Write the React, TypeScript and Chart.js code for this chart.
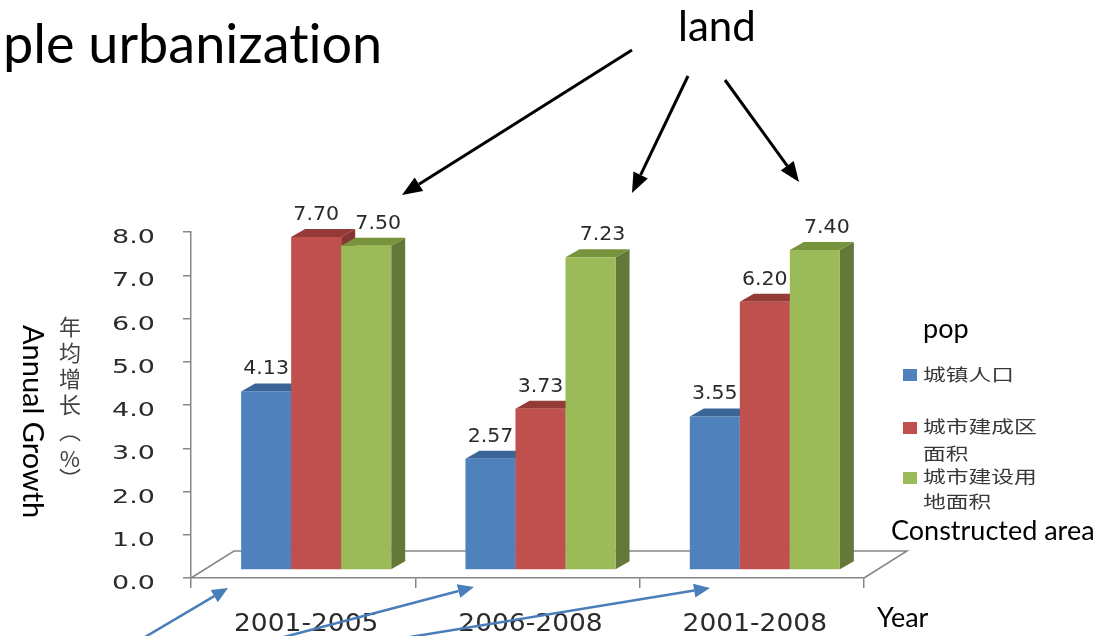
import { useEffect, useRef } from "react";
import { Chart, registerables } from "chart.js";
Chart.register(...registerables);

// ---------- data ----------
const categories = ["2001-2005", "2006-2008", "2001-2008"];
const seriesNames = ["城镇人口", "城市建成区面积", "城市建设用地面积"];
const urbanPopulation = [4.13, 2.57, 3.55];
const builtUpArea = [7.7, 3.73, 6.2];
const constructionLand = [7.5, 7.23, 7.4];
const yMin = 0;
const yMax = 8;
const yStep = 1;
const legendLines = [["城镇人口"], ["城市建成区", "面积"], ["城市建设用", "地面积"]];

// ---------- style ----------
const FRONT = ["#4F81BD", "#C0504D", "#9BBB59"];
const TOP = ["#3B6497", "#943A37", "#77933C"];
const SIDE = ["#365B89", "#873533", "#63793A"];
const BAR_SHIFT = { x: 13, y: -8 };
const BAR_DEPTH = { x: 14, y: -8 };
const FLOOR_DEPTH = { x: 43, y: -27 };
const LABEL_SHIFT = [0, 0, 12];
const AXIS = "#868686";
const TEXT = "#2b2b2b";

function stretchedText(ctx: CanvasRenderingContext2D, text: string, x: number, y: number, sx: number, align: CanvasTextAlign) {
  ctx.save();
  ctx.translate(x, y);
  ctx.scale(sx, 1);
  ctx.textAlign = align;
  ctx.textBaseline = "alphabetic";
  ctx.fillText(text, 0, 0);
  ctx.restore();
}

function poly(ctx: CanvasRenderingContext2D, pts: number[][], color: string) {
  ctx.beginPath();
  ctx.moveTo(pts[0][0], pts[0][1]);
  for (let i = 1; i < pts.length; i++) ctx.lineTo(pts[i][0], pts[i][1]);
  ctx.closePath();
  ctx.fillStyle = color;
  ctx.fill();
}

const bars3d = {
  id: "bars3d",
  beforeDatasetsDraw(chart: any) {
    const { ctx, chartArea: a } = chart;
    ctx.save();
    ctx.strokeStyle = AXIS;
    ctx.lineWidth = 1.5;
    ctx.beginPath();
    ctx.moveTo(a.left, a.bottom);
    ctx.lineTo(a.left + FLOOR_DEPTH.x, a.bottom + FLOOR_DEPTH.y);
    ctx.lineTo(a.right + FLOOR_DEPTH.x, a.bottom + FLOOR_DEPTH.y);
    ctx.lineTo(a.right, a.bottom);
    ctx.stroke();
    ctx.restore();
  },
  beforeDatasetDraw() {
    return false;
  },
  afterDatasetsDraw(chart: any) {
    const ctx: CanvasRenderingContext2D = chart.ctx;
    const n = chart.data.labels.length;
    const nd = chart.data.datasets.length;
    ctx.save();
    for (let i = 0; i < n; i++) {
      for (let d = 0; d < nd; d++) {
        const el = chart.getDatasetMeta(d).data[i];
        const p = el.getProps(["x", "y", "base", "width"], true);
        const l = p.x - p.width / 2 + BAR_SHIFT.x;
        const r = p.x + p.width / 2 + BAR_SHIFT.x;
        const t = p.y + BAR_SHIFT.y;
        const b = p.base + BAR_SHIFT.y;
        poly(ctx, [[r, b], [r + BAR_DEPTH.x, b + BAR_DEPTH.y], [r + BAR_DEPTH.x, t + BAR_DEPTH.y], [r, t]], SIDE[d]);
        poly(ctx, [[l, t], [l + BAR_DEPTH.x, t + BAR_DEPTH.y], [r + BAR_DEPTH.x, t + BAR_DEPTH.y], [r, t]], TOP[d]);
        ctx.fillStyle = FRONT[d];
        ctx.fillRect(l, t, r - l, b - t);
      }
    }
    // value labels
    ctx.fillStyle = TEXT;
    ctx.font = '19px "DejaVu Sans"';
    for (let d = 0; d < nd; d++) {
      const meta = chart.getDatasetMeta(d);
      meta.data.forEach((el: any, i: number) => {
        const p = el.getProps(["x", "y"], true);
        const v = chart.data.datasets[d].data[i] as number;
        stretchedText(ctx, v.toFixed(2), p.x + BAR_SHIFT.x + LABEL_SHIFT[d], p.y + BAR_SHIFT.y - 17, 1.08, "center");
      });
    }
    ctx.restore();
  },
  afterDraw(chart: any) {
    const ctx: CanvasRenderingContext2D = chart.ctx;
    const ys = chart.scales.y;
    const xs = chart.scales.x;
    ctx.save();
    ctx.fillStyle = TEXT;
    ctx.font = '20px "DejaVu Sans"';
    ys.ticks.forEach((tk: any, i: number) => {
      const py = ys.getPixelForTick(i);
      stretchedText(ctx, Number(tk.value).toFixed(1), 155, py + 11, 1.35, "right");
    });
    ctx.font = '25px "DejaVu Sans"';
    chart.data.labels.forEach((lab: string, i: number) => {
      const px = xs.getPixelForTick(i);
      stretchedText(ctx, lab, px + 3, 631, 1.06, "center");
    });
    ctx.restore();
  },
};

function Arrow({ x1, y1, x2, y2, color, w, hl, hw }: any) {
  const ang = Math.atan2(y2 - y1, x2 - x1);
  const bx = x2 - hl * Math.cos(ang);
  const by = y2 - hl * Math.sin(ang);
  const px = -Math.sin(ang) * hw;
  const py = Math.cos(ang) * hw;
  return (
    <g>
      <line x1={x1} y1={y1} x2={bx} y2={by} stroke={color} strokeWidth={w} />
      <polygon points={`${x2},${y2} ${bx + px},${by + py} ${bx - px},${by - py}`} fill={color} />
    </g>
  );
}

export default function App() {
  const ref = useRef<HTMLCanvasElement>(null);
  useEffect(() => {
    const transparent = "rgba(0,0,0,0)";
    const chart = new Chart(ref.current as HTMLCanvasElement, {
      type: "bar",
      data: {
        labels: categories,
        datasets: [
          { label: seriesNames[0], data: urbanPopulation, backgroundColor: FRONT[0] },
          { label: seriesNames[1], data: builtUpArea, backgroundColor: FRONT[1] },
          { label: seriesNames[2], data: constructionLand, backgroundColor: FRONT[2] },
        ],
      },
      options: {
        responsive: false,
        animation: false,
        devicePixelRatio: 1,
        layout: { padding: { left: 0, top: 232, right: 242, bottom: 0 } },
        datasets: { bar: { categoryPercentage: 0.669, barPercentage: 1 } },
        plugins: { legend: { display: false }, tooltip: { enabled: false } },
        scales: {
          x: {
            type: "category",
            grid: { offset: true, drawOnChartArea: false, tickLength: 10, color: AXIS, lineWidth: 1.5 },
            border: { color: AXIS, width: 1.5 },
            ticks: { color: transparent, font: { size: 25, family: "DejaVu Sans" }, maxRotation: 0, autoSkip: false },
            afterFit: (s: any) => {
              s.height = 58;
            },
          },
          y: {
            min: yMin,
            max: yMax,
            grid: { drawOnChartArea: false, tickLength: 8, color: AXIS, lineWidth: 1.5 },
            border: { color: AXIS, width: 1.5 },
            ticks: { stepSize: yStep, color: transparent, font: { size: 20, family: "DejaVu Sans" } },
            afterFit: (s: any) => {
              s.width = 191;
            },
          },
        },
      },
      plugins: [bars3d],
    } as any);
    return () => chart.destroy();
  }, []);

  const lato = "Lato, 'Open Sans', sans-serif";
  const cjk = "'Noto Sans CJK SC', sans-serif";
  const legendRows = [
    { rect: 369, base: [381] },
    { rect: 422, base: [433, 460] },
    { rect: 472, base: [483, 508] },
  ];
  const noLig = { fontVariantLigatures: "none" as const };

  return (
    <div style={{ position: "fixed", left: 0, top: 0, width: 1106, height: 636, background: "#fff", overflow: "hidden" }}>
      <canvas ref={ref} width={1106} height={636} style={{ position: "absolute", left: 0, top: 0, width: 1106, height: 636 }} />
      <svg width={1106} height={636} style={{ position: "absolute", left: 0, top: 0 }}>
        <text x={3} y={63} fontFamily={lato} fontSize={54} fill="#000" style={noLig}>ple urbanization</text>
        <text x={678} y={41} fontFamily={lato} fontSize={42} fill="#000">land</text>
        <text x={923} y={338} fontFamily={lato} fontSize={27} fill="#000">pop</text>
        <text x={891} y={540} fontFamily={lato} fontSize={27} fill="#000" style={noLig}>Constructed area</text>
        <text x={877} y={627} fontFamily={lato} fontSize={27} fill="#000">Year</text>
        <text transform="translate(23 325) rotate(90)" fontFamily={lato} fontSize={29} fill="#000">Annual Growth</text>
        {legendRows.map((row, i) => (
          <g key={i}>
            <rect x={903} y={row.rect} width={14} height={12} fill={FRONT[i]} />
            {legendLines[i].map((ln, j) => (
              <text key={j} transform={`translate(923 ${row.base[j]}) scale(1.38 1)`} fontFamily={cjk} fontSize={16.5} fill="#383838">
                {ln}
              </text>
            ))}
          </g>
        ))}
        <Arrow x1={632} y1={50} x2={402} y2={195} color="#000" w={3} hl={20} hw={8} />
        <Arrow x1={688} y1={76} x2={632} y2={193} color="#000" w={3} hl={20} hw={8} />
        <Arrow x1={725} y1={80} x2={799} y2={182} color="#000" w={3} hl={20} hw={8} />
        <Arrow x1={140} y1={640} x2={228} y2={588} color="#4A7EBB" w={2.5} hl={16} hw={7} />
        <Arrow x1={284} y1={637} x2={474} y2={587} color="#4A7EBB" w={2.5} hl={16} hw={7} />
        <Arrow x1={410} y1={637} x2={710} y2={588} color="#4A7EBB" w={2.5} hl={16} hw={7} />
      </svg>
      <div
        style={{
          position: "absolute",
          left: 57,
          top: 316,
          writingMode: "vertical-rl",
          textOrientation: "mixed",
          fontFamily: cjk,
          fontSize: 22,
          lineHeight: "26px",
          letterSpacing: 4,
          color: "#404040",
          whiteSpace: "nowrap",
        }}
      >
        年均增长（<span style={{ textCombineUpright: "all" } as any}>%</span>）
      </div>
    </div>
  );
}
